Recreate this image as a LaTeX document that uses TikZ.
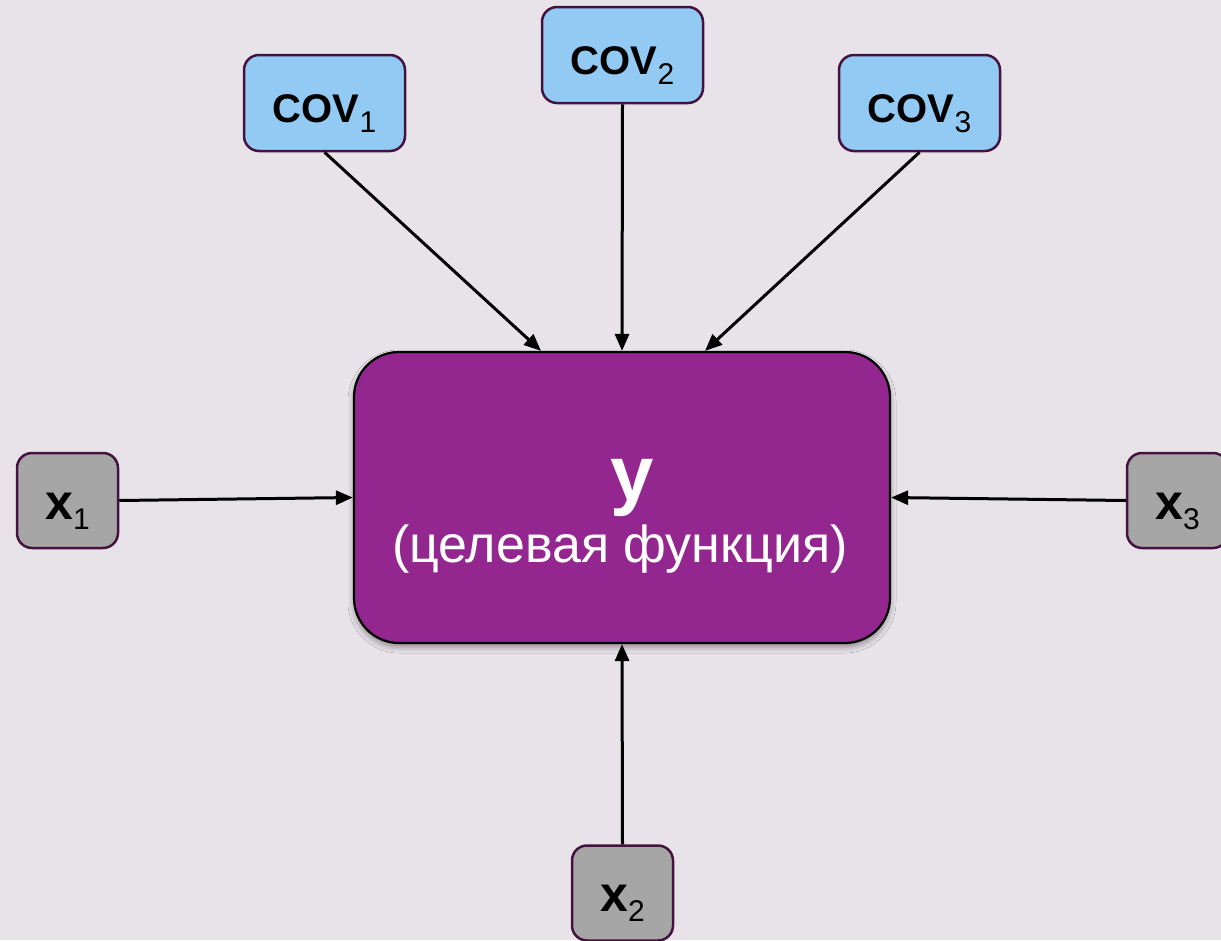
\documentclass[tikz,border=0pt]{standalone}
\usepackage{fontspec}
\setmainfont{Liberation Sans}
\usetikzlibrary{arrows.meta,shadows.blur,calc}

\definecolor{bgcol}{HTML}{E8E3E9}
\definecolor{covfill}{HTML}{92CAF4}
\definecolor{xfill}{HTML}{A6A6A6}
\definecolor{yfill}{HTML}{93278F}
\definecolor{edgecol}{HTML}{45123F}

% bold symbol with a regular-weight subscript
\newcommand{\boxlabel}[3]{{\fontsize{#3}{#3}\selectfont\bfseries #1}\raisebox{-10pt}{\fontsize{30}{30}\selectfont #2}}

\tikzset{
  covbox/.style={draw=edgecol, line width=2.5pt, fill=covfill, rounded corners=15pt,
    minimum width=161pt, minimum height=96pt, inner sep=0pt,
    text height=39pt, text depth=1pt},
  xbox/.style={draw=edgecol, line width=2.5pt, fill=xfill, rounded corners=15pt,
    minimum width=101pt, minimum height=95pt, inner sep=0pt,
    text height=38pt, text depth=1pt},
  ybox/.style={draw=black, line width=2.2pt, fill=yfill, rounded corners=45pt,
    minimum width=536pt, minimum height=291pt, inner sep=0pt,
    blur shadow={shadow xshift=0pt, shadow yshift=-4pt, shadow blur radius=6pt, shadow opacity=40}},
  link/.style={line width=3pt, -{Triangle[length=17pt,width=14pt]}},
}

\begin{document}
\begin{tikzpicture}[x=1pt, y=-1pt]
  \fill[bgcol] (0,0) rectangle (1221,940);
  \useasboundingbox (0,0) rectangle (1221,940);

  % central target node
  \node[ybox] (Y) at (622,497.5) {};
  \node[text=white, anchor=base] (ylabel) at (632,500) {\fontsize{78}{78}\selectfont\bfseries y};
  \node[text=white, anchor=base] (ydesc) at (620,562) {\fontsize{52}{52}\selectfont (целевая функция)};

  % covariates
  \node[covbox] (cov1) at (324.5,103) {\boxlabel{COV}{1}{40}};
  \node[covbox] (cov2) at (622.5,55) {\boxlabel{COV}{2}{40}};
  \node[covbox] (cov3) at (919.5,103) {\boxlabel{COV}{3}{40}};

  % inputs
  \node[xbox] (x1) at (67.5,500.5) {\boxlabel{x}{1}{50}};
  \node[xbox] (x3) at (1177.5,500.5) {\boxlabel{x}{3}{50}};
  \node[xbox] (x2) at (622.5,893) {\boxlabel{x}{2}{50}};

  % connectors
  \draw[link] (cov1.south) -- ($(Y.north)+(-81,0)$);
  \draw[link] (cov2.south) -- (Y.north);
  \draw[link] (cov3.south) -- ($(Y.north)+(83,0)$);
  \draw[link] (x1.east) -- (Y.west);
  \draw[link] (x3.west) -- (Y.east);
  \draw[link] (x2.north) -- (Y.south);
\end{tikzpicture}
\end{document}
